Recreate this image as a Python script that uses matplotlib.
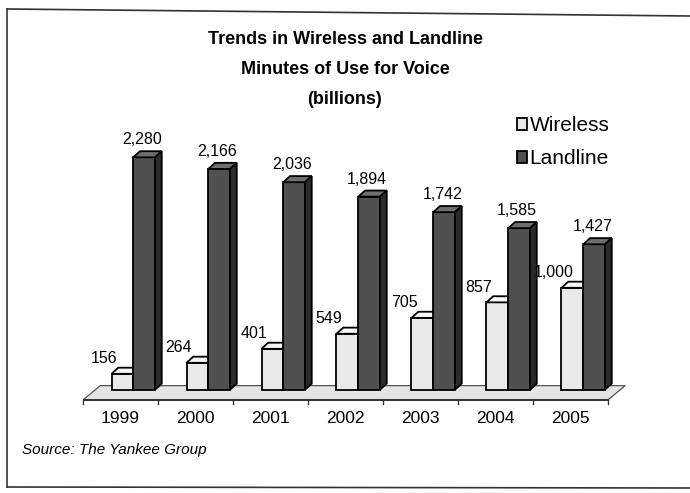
import matplotlib
matplotlib.use("Agg")
import matplotlib.pyplot as plt
from matplotlib.patches import Polygon, Patch
from matplotlib.lines import Line2D
import numpy as np

# data (billions of minutes)
years = ['1999', '2000', '2001', '2002', '2003', '2004', '2005']
wireless = [156, 264, 401, 549, 705, 857, 1000]
landline = [2280, 2166, 2036, 1894, 1742, 1585, 1427]
wireless_labels = ['156', '264', '401', '549', '705', '857', '1,000']
landline_labels = ['2,280', '2,166', '2,036', '1,894', '1,742', '1,585', '1,427']

plt.rcParams['font.family'] = ['Liberation Sans', 'DejaVu Sans']

W, H = 690, 493
fig = plt.figure(figsize=(W / 100, H / 100), dpi=100)
fig.patch.set_facecolor('white')

# plot area, placed in pixels
ax = fig.add_axes([83 / W, (H - 405) / H, 555 / W, 265 / H])
ax.set_xlim(-0.5, 6.9)
ax.set_ylim(-150, 2450)
ax.axis('off')

# fake 3D look
bw = 0.29
dx, dy = 0.09, 60
w_cols = ('#e9e9e9', '#f7f7f7', '#b5b5b5')
l_cols = ('#505050', '#6e6e6e', '#2b2b2b')

def bar3d(x0, v, cols, z):
    front, top, side = cols
    ax.bar(x0, v, width=bw, align='edge', color=front, edgecolor='black',
           linewidth=1.3, zorder=z)
    ax.add_patch(Polygon([(x0, v), (x0 + dx, v + dy), (x0 + bw + dx, v + dy), (x0 + bw, v)],
                         facecolor=top, edgecolor='black', lw=1.3, zorder=z))
    ax.add_patch(Polygon([(x0 + bw, 0), (x0 + bw + dx, dy), (x0 + bw + dx, v + dy), (x0 + bw, v)],
                         facecolor=side, edgecolor='black', lw=1.3, zorder=z))

# floor
fd_x, fd_y = 0.23, 140
ax.add_patch(Polygon([(-0.5, -100), (6.5, -100), (6.5 + fd_x, -100 + fd_y), (-0.5 + fd_x, -100 + fd_y)],
                     facecolor='#e4e4e4', edgecolor='#555555', lw=0.9, zorder=1))
ax.plot([-0.5, 6.5], [-100, -100], color='#333333', lw=1.4, zorder=1)
for b in np.arange(-0.5, 7, 1):
    ax.plot([b, b], [-100, -140], color='#333333', lw=1, clip_on=False)

x = np.arange(len(years))
for i in x:
    bar3d(i - 0.12, wireless[i], w_cols, 3 + 2 * i)
    bar3d(i - 0.12 + bw, landline[i], l_cols, 4 + 2 * i)
    ax.text(i - 0.22, wireless[i] + 150, wireless_labels[i], ha='center', va='center',
            fontsize=11.5, zorder=2 + 2 * i)
    ax.text(i + 0.29, landline[i] + 170, landline_labels[i], ha='center', va='center',
            fontsize=11.5, zorder=20)
    ax.text(i, -280, years[i], ha='center', va='center', fontsize=12.5)

# titles
fig.text(345 / W, 1 - 39 / H, 'Trends in Wireless and Landline', ha='center', va='center',
         fontsize=13, fontweight='bold')
fig.text(345 / W, 1 - 70 / H, 'Minutes of Use for Voice', ha='center', va='center',
         fontsize=13, fontweight='bold')
fig.text(345 / W, 1 - 99 / H, '(billions)', ha='center', va='center',
         fontsize=13, fontweight='bold')

fig.text(22 / W, 1 - 450 / H, 'Source: The Yankee Group', ha='left', va='center',
         fontsize=11, style='italic')

# legend
handles = [Patch(facecolor=w_cols[0], edgecolor='black', lw=1.3),
           Patch(facecolor=l_cols[0], edgecolor='black', lw=1.3)]
fig.legend(handles, ['Wireless', 'Landline'], loc='upper left',
           bbox_to_anchor=(517 / W, 1 - 116 / H), frameon=False, fontsize=15,
           handlelength=0.5, handleheight=0.5, handletextpad=0.1, labelspacing=0.69,
           borderpad=0, borderaxespad=0)

# scanned page border
fig.add_artist(Line2D([7 / W, 7 / W], [1 - 9 / H, 1 - 487 / H], color='#333333', lw=1.2))
fig.add_artist(Line2D([7 / W, 1.0], [1 - 9 / H, 1 - 16 / H], color='#333333', lw=1.2))
fig.add_artist(Line2D([7 / W, 1.0], [1 - 487 / H, 1 - 488 / H], color='#333333', lw=1.2))

fig.savefig('out.png', dpi=100)
